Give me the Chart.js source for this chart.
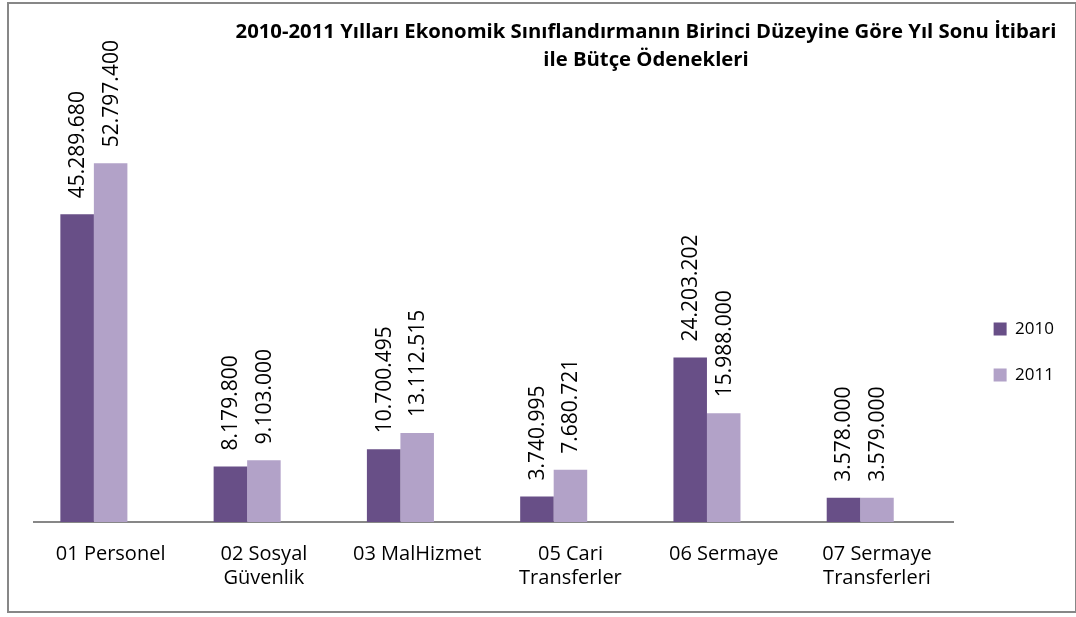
<!DOCTYPE html>
<html>
<head>
<meta charset="utf-8">
<script src="https://cdn.jsdelivr.net/npm/chart.js@4.4.1/dist/chart.umd.min.js"></script>
<style>
  html, body { margin: 0; padding: 0; background: #fff; }
  #wrap { position: relative; width: 1076px; height: 617px; }
  #frame { position: absolute; left: 7px; top: 2px; width: 1070px; height: 611px;
           border: 2px solid #878787; box-sizing: border-box; pointer-events: none; }
  #title { position: absolute; left: 146px; width: 1000px; top: 16px; text-align: center;
           font: bold 20.3px "Open Sans", sans-serif; line-height: 28px; color: #000; white-space: nowrap; }
  canvas { position: absolute; left: 0; top: 0; }
</style>
</head>
<body>
<div id="wrap">
  <canvas id="chart" width="1076" height="617"></canvas>
  <div id="frame"></div>
  <div id="title">2010-2011 Yılları Ekonomik Sınıflandırmanın Birinci Düzeyine Göre Yıl Sonu İtibari<br>ile Bütçe Ödenekleri</div>
</div>
<script>
// kategoriler
const categories = [
  ['01 Personel'],
  ['02 Sosyal', 'Güvenlik'],
  ['03 MalHizmet'],
  ['05 Cari', 'Transferler'],
  ['06 Sermaye'],
  ['07 Sermaye', 'Transferleri']
];

// seriler
const values2010 = [45289680, 8179800, 10700495, 3740995, 24203202, 3578000];
const values2011 = [52797400, 9103000, 13112515, 7680721, 15988000, 3579000];
// Excel'deki boş üçüncü seri (yer tutucu)
const valuesEmpty = [null, null, null, null, null, null];

const COLORS = {
  y2010: '#684f87',
  y2011: '#b2a2c8',
  axis: '#878787'
};

// binlik ayırıcı nokta
function formatTR(num) {
  return String(num).replace(/\B(?=(\d{3})+(?!\d))/g, '.');
}

// dikey veri etiketleri
const barLabels = {
  id: 'barLabels',
  afterDatasetsDraw(chart) {
    const ctx = chart.ctx;
    ctx.save();
    ctx.font = '21px "Open Sans", sans-serif';
    ctx.fillStyle = '#000';
    ctx.textAlign = 'left';
    ctx.textBaseline = 'middle';
    chart.data.datasets.forEach((ds, i) => {
      const meta = chart.getDatasetMeta(i);
      meta.data.forEach((bar, j) => {
        const v = ds.data[j];
        if (v === null || v === undefined) return;
        ctx.save();
        ctx.translate(bar.x, bar.y - 16);
        ctx.rotate(-Math.PI / 2);
        ctx.fillText(formatTR(v), 0, 1);
        ctx.restore();
      });
    });
    ctx.restore();
  }
};

// lejantı biraz sağa kaydır (Excel yerleşimi)
const legendShift = {
  id: 'legendShift',
  afterLayout(chart) {
    if (chart.legend) {
      chart.legend.left += 11;
      chart.legend.right += 11;
    }
  }
};

new Chart(document.getElementById('chart'), {
  type: 'bar',
  data: {
    labels: categories,
    datasets: [
      { label: '2010', data: values2010, backgroundColor: COLORS.y2010 },
      { label: '2011', data: values2011, backgroundColor: COLORS.y2011 },
      { label: '', data: valuesEmpty, backgroundColor: 'rgba(0,0,0,0)' }
    ]
  },
  options: {
    responsive: false,
    animation: false,
    devicePixelRatio: 1,
    categoryPercentage: 0.656,
    barPercentage: 1,
    layout: { padding: { left: 34, top: 102, right: 23, bottom: 15 } },
    plugins: {
      title: { display: false },
      tooltip: { enabled: false },
      legend: {
        position: 'right',
        labels: {
          font: { family: '"Open Sans", sans-serif', size: 17 },
          color: '#000',
          boxWidth: 13,
          boxHeight: 13,
          padding: 29,
          filter: item => item.text !== ''
        }
      }
    },
    scales: {
      x: {
        grid: { display: false },
        border: { display: true, color: COLORS.axis, width: 2 },
        ticks: {
          color: '#000',
          font: { family: '"Open Sans", sans-serif', size: 20, lineHeight: 1.2 },
          padding: 12,
          maxRotation: 0,
          autoSkip: false
        }
      },
      y: {
        display: false,
        min: 0,
        max: 61800000
      }
    }
  },
  plugins: [barLabels, legendShift]
});
</script>
</body>
</html>
